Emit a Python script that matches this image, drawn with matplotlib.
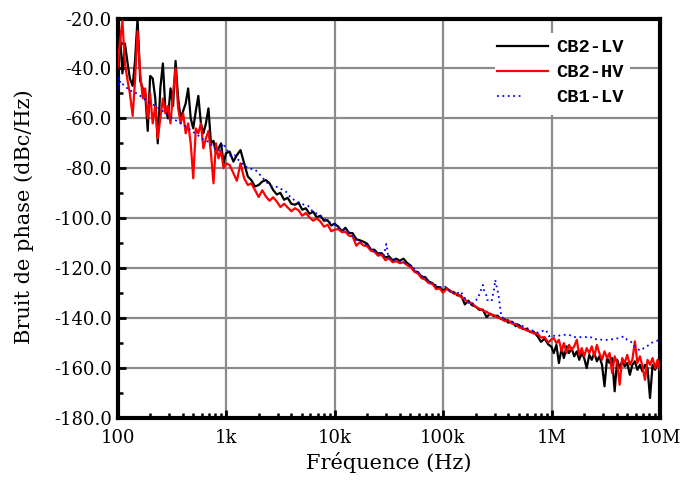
import numpy as np
import matplotlib
matplotlib.use("Agg")
import matplotlib.pyplot as plt
from matplotlib.ticker import FixedLocator, FuncFormatter, LogLocator, NullFormatter, MultipleLocator
from matplotlib.patches import Rectangle

plt.rcParams["font.family"] = ["DejaVu Serif"]
plt.rcParams["axes.unicode_minus"] = False

# Phase noise measurements (dBc/Hz) versus offset frequency (Hz)
series_names = ["CB2-LV", "CB2-HV", "CB1-LV"]
series_colors = ["#000000", "#ff0000", "#0000ff"]

freq_hz = [
    100, 105, 111, 117, 124, 130, 138, 145, 153, 162,
    171, 180, 190, 200, 211, 223, 235, 248, 262, 276,
    292, 308, 325, 343, 362, 382, 403, 425, 448, 473,
    499, 527, 556, 587, 619, 653, 689, 727, 767, 809,
    854, 901, 950, 1000,
    1080, 1170, 1260, 1360, 1470, 1590, 1710, 1850, 2000, 2160,
    2330, 2520, 2720, 2940, 3170, 3430, 3700, 4000, 4320, 4670,
    5040, 5440, 5880, 6350, 6860, 7410, 8000, 8640, 9330, 10000,
    10800, 11700, 12600, 13600, 14700, 15900, 17100, 18500, 20000, 21600,
    23300, 25200, 27200, 29400, 31700, 34300, 37000, 40000, 43200, 46700,
    50400, 54400, 58800, 63500, 68600, 74100, 80000, 86400, 93300, 100000,
    108000, 117000, 126000, 136000, 147000, 159000, 171000, 185000, 200000, 216000,
    233000, 252000, 272000, 294000, 317000, 343000, 370000, 400000, 432000, 467000,
    504000, 544000, 588000, 635000, 686000, 741000, 800000, 864000, 933000, 1000000,
    1.05e6, 1.11e6, 1.17e6, 1.24e6, 1.30e6, 1.38e6, 1.45e6, 1.53e6, 1.62e6, 1.71e6,
    1.80e6, 1.90e6, 2.00e6, 2.11e6, 2.23e6, 2.35e6, 2.48e6, 2.62e6, 2.76e6, 2.92e6,
    3.08e6, 3.25e6, 3.43e6, 3.62e6, 3.82e6, 4.03e6, 4.25e6, 4.48e6, 4.73e6, 4.99e6,
    5.27e6, 5.56e6, 5.87e6, 6.19e6, 6.53e6, 6.89e6, 7.27e6, 7.67e6, 8.09e6, 8.54e6,
    9.01e6, 9.50e6, 1.00e7,
]

cb2_lv = [
    -45, -25, -42, -30, -38, -44, -47, -37, -20, -45,
    -48, -50, -65, -43, -44, -52, -70, -48, -38, -56,
    -60, -48, -55, -37, -52, -60, -57, -54, -48, -60,
    -64, -57, -51, -62, -66, -62, -56, -70, -69, -74,
    -72, -70, -78, -74,
    -73.3, -77.3, -74.7, -72.7, -78.0, -83.3, -84.7, -87.3, -86.7, -85.3,
    -84.7, -86.0, -88.7, -90.5, -89.8, -92.6, -91.8, -94.2, -94.6, -93.8,
    -96.6, -96.0, -98.2, -97.4, -99.6, -99.0, -101.0, -100.8, -102.9, -102.2,
    -103.3, -105.2, -103.8, -105.9, -106.0, -108.4, -108.8, -109.4, -110.2, -112.6,
    -112.6, -114.2, -114.0, -115.8, -115.2, -116.8, -116.2, -117.0, -116.2, -117.9,
    -119.0, -121.2, -121.6, -123.5, -123.6, -125.4, -126.0, -127.5, -127.6, -129.0,
    -128.0, -129.4, -129.6, -130.9, -131.0, -134.5, -133.0, -134.8, -135.4, -136.7,
    -136.6, -139.6, -138.2, -139.2, -139.0, -140.4, -140.5, -141.8, -141.4, -143.2,
    -142.8, -144.4, -144.3, -145.6, -145.5, -147.2, -149.5, -148.2, -150.5, -151.5,
    -154.0, -150.7, -158.0, -152.0, -156.0, -151.3, -154.0, -152.0, -155.3, -153.3,
    -156.7, -154.0, -156.0, -160.0, -154.7, -156.7, -154.0, -157.3, -155.3, -158.7,
    -167.3, -156.0, -158.0, -156.0, -169.3, -156.7, -160.0, -157.3, -159.3, -158.0,
    -162.7, -158.7, -157.3, -160.7, -158.7, -161.3, -158.7, -160.0, -172.0, -158.7,
    -160.7, -158.0, -160.0,
]

cb2_hv = [
    -40, -30, -21, -38, -45, -50, -59, -45, -25, -42,
    -52, -48, -60, -50, -62, -55, -68, -60, -52, -58,
    -55, -62, -50, -40, -56, -62, -58, -66, -62, -70,
    -84, -64, -66, -62, -72, -68, -65, -74, -86, -70,
    -76, -73, -80, -78,
    -78.7, -82.0, -85.0, -78.0, -84.0, -86.7, -86.0, -88.7, -91.5, -88.8,
    -91.3, -93.0, -91.6, -93.3, -95.5, -94.2, -95.7, -97.2, -96.0, -96.8,
    -99.0, -97.9, -99.6, -101.0, -100.1, -101.3, -103.4, -102.6, -105.2, -104.6,
    -104.3, -105.6, -105.4, -107.0, -107.2, -111.0, -109.6, -110.9, -111.2, -113.0,
    -113.4, -115.0, -114.6, -116.8, -116.0, -117.6, -117.2, -118.0, -117.6, -118.8,
    -119.6, -121.4, -122.2, -124.0, -124.6, -126.0, -126.3, -128.4, -128.1, -129.8,
    -128.3, -129.0, -130.2, -130.4, -131.6, -132.5, -133.8, -134.0, -135.5, -136.2,
    -137.0, -137.5, -138.5, -138.8, -139.8, -140.1, -141.2, -140.9, -142.2, -142.3,
    -143.8, -144.0, -144.9, -145.3, -146.2, -146.1, -147.8, -147.6, -149.8, -148.5,
    -148.0, -150.0, -148.7, -153.3, -150.0, -154.0, -150.7, -152.7, -151.3, -148.7,
    -154.7, -152.0, -155.3, -152.0, -154.0, -151.3, -155.3, -150.7, -154.0, -156.7,
    -153.3, -156.0, -154.0, -162.0, -155.3, -158.0, -166.7, -156.0, -158.0, -154.7,
    -158.7, -156.7, -149.3, -158.0, -155.3, -159.3, -164.7, -156.7, -158.7, -156.0,
    -160.0, -156.7, -160.7,
]

cb1_freq_hz = [
    100, 101, 102, 103, 106, 110, 120, 130, 140, 155,
    170, 185, 200, 225, 250, 280, 310, 350, 400, 450,
    500, 560, 620, 700, 780, 870, 950, 1000, 1100, 1200,
    1350, 1600, 1850, 2000, 2300, 2550, 3000, 3600, 4000, 4600,
    5200, 5700, 6300, 7300, 8500, 10000, 10500, 12000, 13500, 15500,
    17500, 20000, 23000, 26000, 28500, 30000, 31500, 33000, 38000, 43000,
    50000, 57000, 65000, 75000, 88000, 100000, 107000, 115000, 130000, 145000,
    165000, 185000, 210000, 233000, 238000, 250000, 255000, 280000, 288000, 297000,
    303000, 307000, 325000, 345000, 370000, 420000, 480000, 550000, 650000, 750000,
    888000, 950000, 1000000, 1090000, 1260000, 1450000, 1610000, 1920000, 2300000, 2370000,
    3040000, 3380000, 4170000, 4650000, 4980000, 5340000, 6500000, 7600000, 8200000, 9500000,
    10000000,
]

cb1_lv = [
    -41, -48, -43, -47, -45, -46, -47.5, -49, -49, -50.5,
    -51.5, -53, -54, -55, -56.5, -58, -59.5, -61, -62.5, -64,
    -65.5, -67, -68.5, -69.5, -72, -73, -70, -72, -75, -74.7,
    -77.5, -80, -80.5, -82, -85, -87, -87.5, -89.5, -92, -93.5,
    -94.5, -95, -97.3, -98.7, -101, -102.5, -103.5, -104.5, -105.5, -108.5,
    -109.3, -111, -113, -114, -115, -110.3, -116, -116.5, -117, -117.5,
    -119, -121, -123.5, -125.5, -127, -128, -127.3, -129, -130.5, -129.3,
    -133, -134.5, -132, -126.7, -128.7, -130.7, -132.7, -133.3, -130.7, -128,
    -124.7, -126, -130.7, -139.5, -140.3, -141.3, -142.3, -143.3, -144.8, -145.8,
    -144.7, -147.3, -146.7, -147.3, -146.7, -146.7, -147.6, -147.6, -147.6, -148.3,
    -148.7, -148.7, -148, -147.3, -148.7, -149.3, -153, -151.3, -150, -149,
    -148.5,
]

x_ticks = [1e2, 1e3, 1e4, 1e5, 1e6, 1e7]
x_tick_labels = ["100", "1k", "10k", "100k", "1M", "10M"]
y_ticks = [-180, -160, -140, -120, -100, -80, -60, -40, -20]

fig = plt.figure(figsize=(6.82, 4.91), dpi=100)
ax = fig.add_axes([117.5 / 682, 1 - 418 / 491, 542.5 / 682, 399.5 / 491])

ax.plot(freq_hz, cb2_lv, color=series_colors[0], lw=1.6, label=series_names[0], zorder=3)
ax.plot(freq_hz, cb2_hv, color=series_colors[1], lw=1.6, label=series_names[1], zorder=4)
ax.plot(cb1_freq_hz, cb1_lv, color=series_colors[2], lw=1.3, ls=(0, (1, 2)),
        label=series_names[2], zorder=5)

ax.set_xscale("log")
ax.set_xlim(x_ticks[0], x_ticks[-1])
ax.set_ylim(y_ticks[0], y_ticks[-1])

ax.xaxis.set_major_locator(FixedLocator(x_ticks))
ax.xaxis.set_major_formatter(FuncFormatter(
    lambda v, p: x_tick_labels[p] if p is not None and p < len(x_tick_labels) else ""))
ax.xaxis.set_minor_locator(LogLocator(base=10, subs=[2, 3, 4, 5, 6, 7, 8, 9], numticks=20))
ax.xaxis.set_minor_formatter(NullFormatter())
ax.yaxis.set_major_locator(FixedLocator(y_ticks))
ax.yaxis.set_major_formatter(FuncFormatter(lambda v, p: f"{v:.1f}"))
ax.yaxis.set_minor_locator(MultipleLocator(10))

ax.grid(True, which="major", color="#8c8c8c", lw=1.6)
for s in ax.spines.values():
    s.set_linewidth(3)

ax.tick_params(which="both", direction="in", top=False, right=False, labelsize=13)
ax.tick_params(which="major", length=6, width=2)
ax.tick_params(which="minor", length=3.5, width=1.8)
ax.tick_params(axis="y", pad=4)
ax.tick_params(axis="x", pad=8)

ax.set_xlabel("Fréquence (Hz)", fontsize=15, va="center")
ax.xaxis.set_label_coords(0.5, -0.111)
ax.set_ylabel("Bruit de phase (dBc/Hz)", fontsize=15, va="center")
ax.yaxis.set_label_coords(-0.172, 0.505)

# white panel behind the legend, hiding the grid there
ax.add_patch(Rectangle((0.696, 0.758), 0.249, 0.206, transform=ax.transAxes,
                       facecolor="white", edgecolor="none", zorder=1.8))
leg = ax.legend(loc="upper left", bbox_to_anchor=(0.700, 0.948), frameon=False,
                prop={"family": "Liberation Mono", "size": 13.5, "weight": "bold"},
                handlelength=2.7, handletextpad=0.45, labelspacing=0.42,
                borderpad=0, borderaxespad=0)
blue_handle = leg.get_lines()[2]
xd = np.asarray(blue_handle.get_xdata(), dtype=float)
blue_handle.set_xdata(xd[0] + (xd - xd[0]) * 0.5)

fig.savefig("out.png", dpi=100)
